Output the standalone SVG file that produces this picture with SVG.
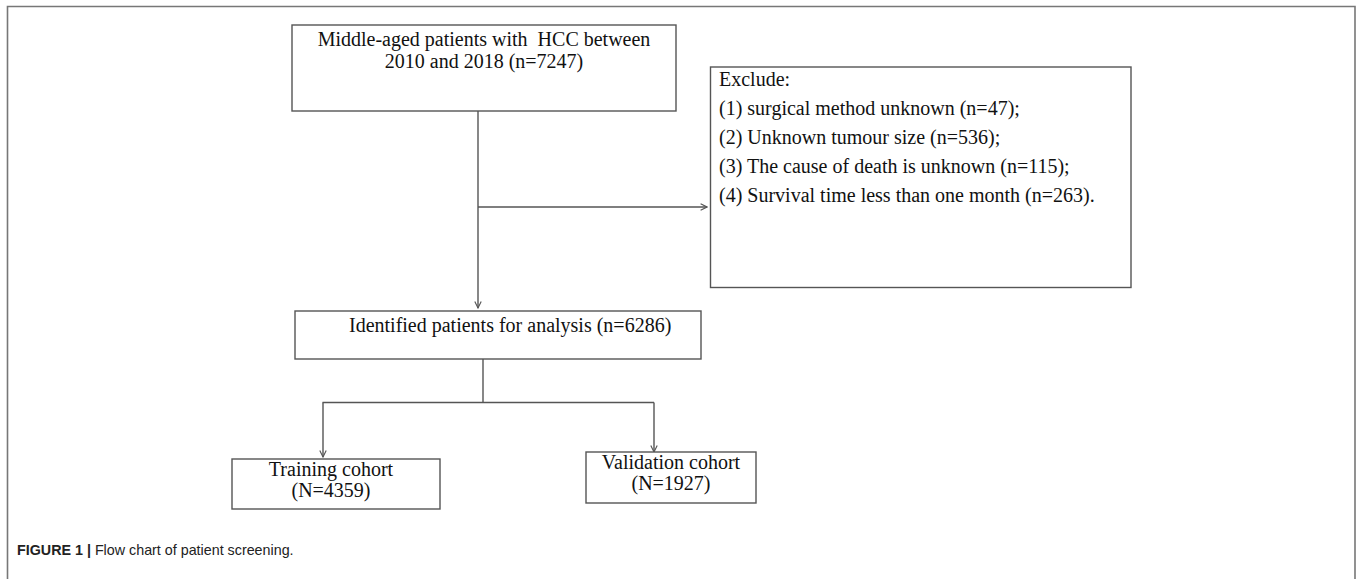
<svg xmlns="http://www.w3.org/2000/svg" width="1360" height="579" viewBox="0 0 1360 579">
<defs>
<style>
.box{fill:#fff;stroke:#555;stroke-width:1.4}
.t{font-family:"Liberation Serif","Times New Roman",serif;font-size:20px;fill:#111}
.c{text-anchor:middle}
.ln{fill:none;stroke:#555;stroke-width:1.4}
.cap{font-family:"Liberation Sans",Arial,sans-serif;font-size:14.3px;fill:#222}
</style>
<marker id="ah" viewBox="0 0 10 10" refX="9" refY="5" markerWidth="8" markerHeight="8" markerUnits="userSpaceOnUse" orient="auto">
<path d="M1,1 L9,5 L1,9" fill="none" stroke="#555" stroke-width="1.4"/>
</marker>
</defs>
<rect width="1360" height="579" fill="#fff"/>
<path d="M7.5,579 V6.5 H1355 V579" fill="none" stroke="#777" stroke-width="1.6"/>
<g id="connectors">
<line class="ln" x1="478" y1="111" x2="478" y2="308" marker-end="url(#ah)"/>
<line class="ln" x1="478" y1="207" x2="707" y2="207" marker-end="url(#ah)"/>
<polyline class="ln" points="483,359 483,402.5"/>
<line class="ln" x1="322.5" y1="402.5" x2="654" y2="402.5"/>
<line class="ln" x1="323" y1="402.5" x2="323" y2="457" marker-end="url(#ah)"/>
<line class="ln" x1="654" y1="402.5" x2="654" y2="452" marker-end="url(#ah)"/>
</g>
<g id="start">
<rect class="box" x="292" y="25" width="384" height="86"/>
<text class="t c" x="484" y="46" xml:space="preserve">Middle-aged patients with  HCC between</text>
<text class="t c" x="484" y="68">2010 and 2018 (n=7247)</text>
</g>
<g id="exclude">
<rect class="box" x="710.5" y="67" width="420.5" height="220.5"/>
<text class="t" x="719" y="86">Exclude:</text>
<text class="t" x="719" y="115">(1) surgical method unknown (n=47);</text>
<text class="t" x="719" y="144">(2) Unknown tumour size (n=536);</text>
<text class="t" x="719" y="173">(3) The cause of death is unknown (n=115);</text>
<text class="t" x="719" y="202">(4) Survival time less than one month (n=263).</text>
</g>
<g id="identified">
<rect class="box" x="295" y="311" width="406" height="48"/>
<text class="t" x="349" y="332">Identified patients for analysis (n=6286)</text>
</g>
<g id="training">
<rect class="box" x="232" y="459" width="208" height="50"/>
<text class="t c" x="331" y="476">Training cohort</text>
<text class="t c" x="331" y="497">(N=4359)</text>
</g>
<g id="validation">
<rect class="box" x="586" y="452" width="170" height="51"/>
<text class="t c" x="671" y="469">Validation cohort</text>
<text class="t c" x="671" y="490">(N=1927)</text>
</g>
<text class="cap" x="17" y="555"><tspan font-weight="bold">FIGURE 1 | </tspan>Flow chart of patient screening.</text>
</svg>
